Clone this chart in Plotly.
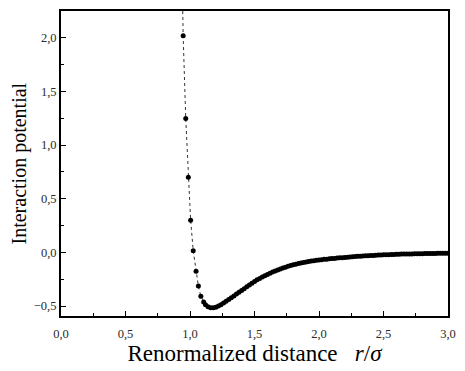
import plotly.graph_objects as go

# Renormalized distance r/sigma and interaction potential
r_sparse = [0.930, 0.947, 0.967, 0.987, 1.005, 1.025, 1.047, 1.065, 1.084, 1.106]
u_sparse = [3.200, 2.020, 1.248, 0.700, 0.300, 0.016, -0.177, -0.314, -0.409, -0.462]

r_dense = [1.12, 1.14, 1.16, 1.18, 1.20, 1.22, 1.24, 1.26, 1.28, 1.30,
           1.32, 1.34, 1.36, 1.38, 1.40, 1.42, 1.44, 1.46, 1.48, 1.50,
           1.52, 1.54, 1.56, 1.58, 1.60, 1.62, 1.64, 1.66, 1.68, 1.70,
           1.72, 1.74, 1.76, 1.78, 1.80, 1.82, 1.84, 1.86, 1.88, 1.90,
           1.92, 1.94, 1.96, 1.98, 2.00, 2.02, 2.04, 2.06, 2.08, 2.10,
           2.12, 2.14, 2.16, 2.18, 2.20, 2.22, 2.24, 2.26, 2.28, 2.30,
           2.32, 2.34, 2.36, 2.38, 2.40, 2.42, 2.44, 2.46, 2.48, 2.50,
           2.52, 2.54, 2.56, 2.58, 2.60, 2.62, 2.64, 2.66, 2.68, 2.70,
           2.72, 2.74, 2.76, 2.78, 2.80, 2.82, 2.84, 2.86, 2.88, 2.90,
           2.92, 2.94, 2.96, 2.98, 3.00]
u_dense = [-0.488, -0.506, -0.516, -0.517, -0.511, -0.500, -0.487, -0.472, -0.456, -0.440,
           -0.423, -0.406, -0.389, -0.372, -0.355, -0.338, -0.321, -0.305, -0.288, -0.271,
           -0.256, -0.243, -0.230, -0.218, -0.206, -0.195, -0.184, -0.174, -0.164, -0.155,
           -0.146, -0.138, -0.130, -0.123, -0.116, -0.110, -0.104, -0.099, -0.094, -0.089,
           -0.085, -0.081, -0.077, -0.074, -0.071, -0.068, -0.065, -0.063, -0.060, -0.058,
           -0.056, -0.053, -0.051, -0.049, -0.047, -0.045, -0.043, -0.041, -0.039, -0.037,
           -0.036, -0.034, -0.032, -0.031, -0.029, -0.028, -0.027, -0.025, -0.024, -0.023,
           -0.022, -0.021, -0.020, -0.019, -0.018, -0.017, -0.016, -0.016, -0.015, -0.014,
           -0.014, -0.013, -0.013, -0.012, -0.012, -0.011, -0.011, -0.010, -0.010, -0.010,
           -0.009, -0.009, -0.009, -0.008, -0.008]

r_all = r_sparse + r_dense
u_all = u_sparse + u_dense

x_ticks = [0.0, 0.5, 1.0, 1.5, 2.0, 2.5, 3.0]
y_ticks = [-0.5, 0.0, 0.5, 1.0, 1.5, 2.0]

fig = go.Figure()
fig.add_trace(go.Scatter(
    x=r_all, y=u_all, mode="lines+markers",
    line=dict(color="#333333", width=1, dash="dot"),
    marker=dict(color="black", size=5),
    showlegend=False, cliponaxis=True,
))

tickfont = dict(family="Liberation Serif", size=12.5, color="#2a2a2a")

fig.update_layout(
    width=465, height=371,
    margin=dict(l=61, r=9, t=10, b=55),
    plot_bgcolor="white", paper_bgcolor="white",
    separators=",.",
    xaxis=dict(
        range=[0, 3.0], tickvals=x_ticks, tickformat=".1f",
        showgrid=False, zeroline=False,
        showline=True, linecolor="black", linewidth=2, mirror=True,
        ticks="inside", ticklen=5, tickwidth=1, tickcolor="black",
        minor=dict(ticks="inside", ticklen=3, tickwidth=1, tickcolor="black", dtick=0.25, tick0=0),
        tickfont=tickfont, ticklabelstandoff=5,
        title=dict(text="Renormalized distance   <i>r</i>/<i>σ</i>",
                   font=dict(family="Liberation Serif", size=23, color="black"), standoff=4),
    ),
    yaxis=dict(
        range=[-0.593, 2.25], tickvals=y_ticks, tickformat=".1f",
        ticksuffix="\u00a0\u200a",
        showgrid=False, zeroline=False,
        showline=True, linecolor="black", linewidth=2, mirror=True,
        ticks="inside", ticklen=5, tickwidth=1, tickcolor="black",
        minor=dict(ticks="inside", ticklen=3, tickwidth=1, tickcolor="black", dtick=0.25, tick0=0),
        tickfont=tickfont,
    ),
    annotations=[dict(
        text="Interaction potential", textangle=-90,
        xref="paper", yref="paper", x=-0.106, y=0.5,
        xanchor="center", yanchor="middle", showarrow=False,
        font=dict(family="Liberation Serif", size=20, color="black"),
    )],
)

fig.write_html("out.html")
